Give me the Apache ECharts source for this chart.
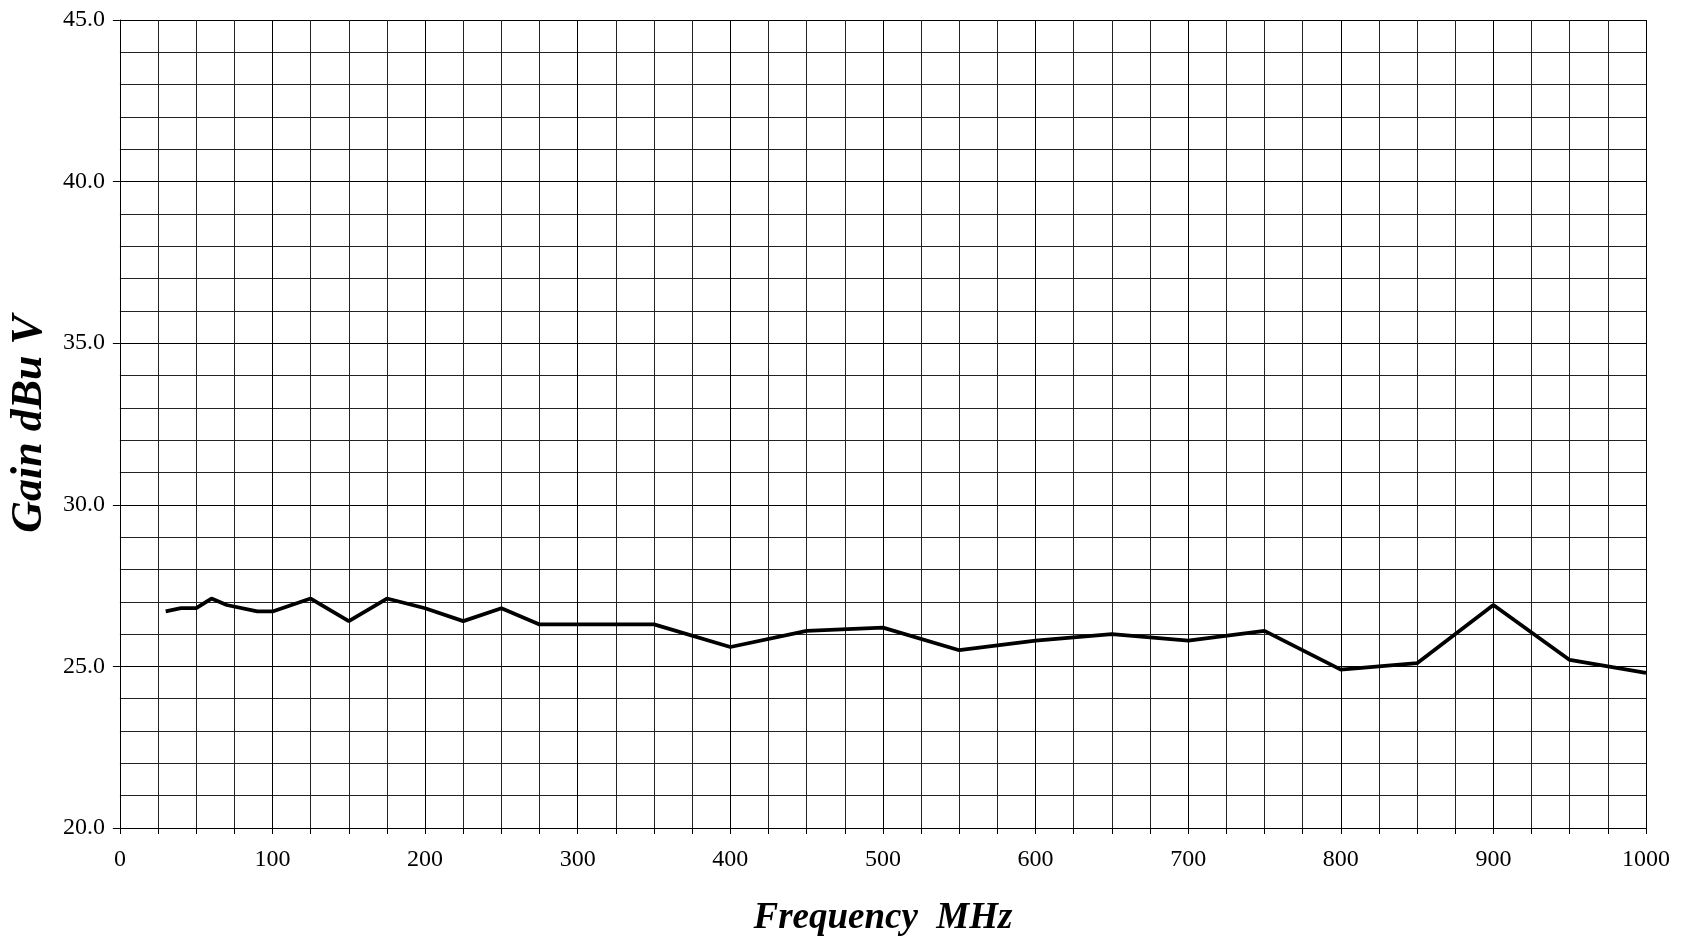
<!DOCTYPE html>
<html>
<head>
<meta charset="utf-8">
<script src="https://cdn.jsdelivr.net/npm/echarts@6/dist/echarts.min.js"></script>
<style>
  html, body { margin: 0; padding: 0; background: #fff; }
  #chart { width: 1684px; height: 948px; }
</style>
</head>
<body>
<div id="chart"></div>
<script>
// frequency (MHz) and gain (dBuV)
const freqMHz = [30, 40, 50, 60, 70, 90, 100, 125, 150, 175, 200, 225, 250, 275, 300, 325, 350,
  400, 450, 500, 550, 600, 650, 700, 750, 800, 850, 900, 950, 1000];
const gainDb = [26.7, 26.8, 26.8, 27.1, 26.9, 26.7, 26.7, 27.1, 26.4, 27.1, 26.8, 26.4, 26.8, 26.3, 26.3, 26.3, 26.3,
  25.6, 26.1, 26.2, 25.5, 25.8, 26.0, 25.8, 26.1, 24.9, 25.1, 26.9, 25.2, 24.8];

const xName = 'Frequency  MHz';
const yName = 'Gain dBu V';
const serif = 'Liberation Serif';

const chart = echarts.init(document.getElementById('chart'));

const option = {
  backgroundColor: '#fff',
  animation: false,
  grid: { left: 118, right: 38, top: 20, bottom: 120 },
  xAxis: {
    type: 'value',
    min: 0,
    max: 1000,
    interval: 100,
    name: xName,
    nameLocation: 'middle',
    nameGap: 72,
    nameTextStyle: { fontFamily: serif, fontSize: 37, fontWeight: 'bold', fontStyle: 'italic', color: '#000', verticalAlign: 'top' },
    axisLine: { show: true, lineStyle: { color: '#000', width: 1 } },
    axisTick: { show: true, length: 6, lineStyle: { color: '#000' } },
    minorTick: { show: true, splitNumber: 4, length: 6, lineStyle: { color: '#000' } },
    axisLabel: { fontFamily: serif, fontSize: 24, color: '#000', margin: 20, formatter: v => String(v) },
    splitLine: { show: true, lineStyle: { color: '#000', width: 1 } },
    minorSplitLine: { show: true, lineStyle: { color: '#222', width: 1 } }
  },
  yAxis: {
    type: 'value',
    min: 20,
    max: 45,
    interval: 5,
    name: yName,
    nameLocation: 'middle',
    nameGap: 66,
    nameRotate: 90,
    nameTextStyle: { fontFamily: serif, fontSize: 44, fontWeight: 'bold', fontStyle: 'italic', color: '#000' },
    axisLine: { show: true, lineStyle: { color: '#000', width: 1 } },
    axisTick: { show: true, length: 7, lineStyle: { color: '#000' } },
    minorTick: { show: false, splitNumber: 5 },
    axisLabel: {
      fontFamily: serif, fontSize: 24, color: '#000', margin: 15,
      formatter: v => v.toFixed(1)
    },
    splitLine: { show: true, lineStyle: { color: '#000', width: 1 } },
    minorSplitLine: { show: true, lineStyle: { color: '#222', width: 1 } }
  },
  series: [{
    type: 'line',
    data: freqMHz.map((f, i) => [f, gainDb[i]]),
    showSymbol: false,
    lineStyle: { color: '#000', width: 3.8 },
    z: 5
  }]
};

chart.setOption(option);
</script>
</body>
</html>
